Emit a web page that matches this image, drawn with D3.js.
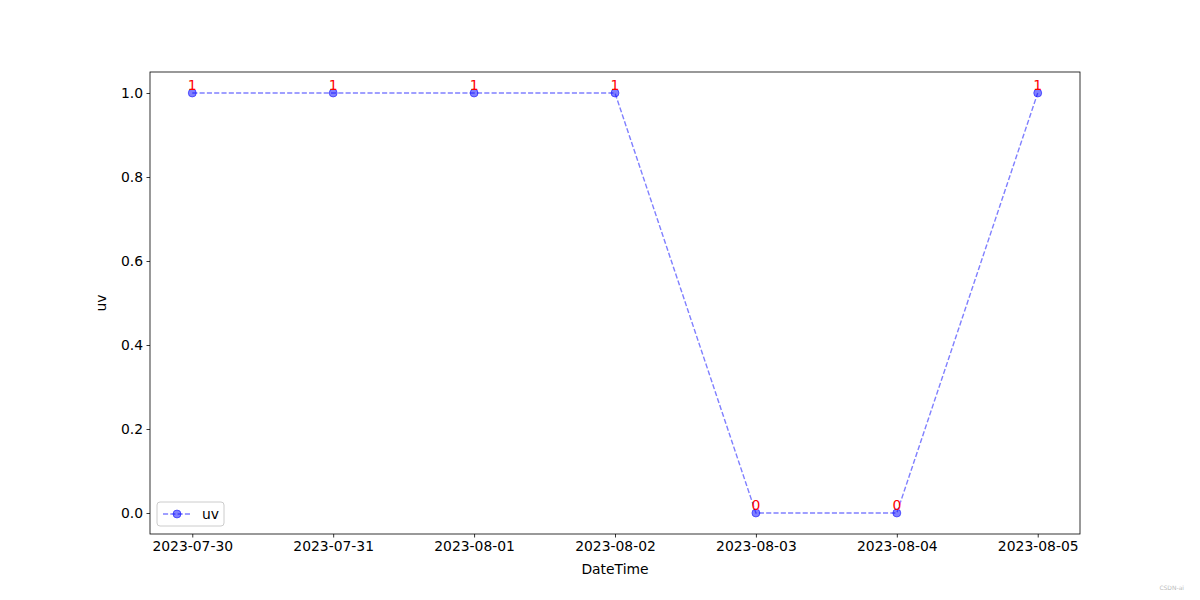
<!DOCTYPE html>
<html>
<head>
<meta charset="utf-8">
<script src="https://cdn.jsdelivr.net/npm/d3@7"></script>
<style>
  body { margin: 0; background: #fff; }
  text { font-family: "DejaVu Sans", sans-serif; }
</style>
</head>
<body>
<div id="chart"></div>
<script>
// dati
var dates = ["2023-07-30", "2023-07-31", "2023-08-01", "2023-08-02", "2023-08-03", "2023-08-04", "2023-08-05"];
var uv = [1, 1, 1, 1, 0, 0, 1];
var yTicks = [0.0, 0.2, 0.4, 0.6, 0.8, 1.0];

var W = 1200, H = 600;
var margin = {top: 72, right: 120, bottom: 66, left: 150};
var width = W - margin.left - margin.right;
var height = H - margin.top - margin.bottom;

var svg = d3.select("#chart")
  .append("svg")
  .attr("width", W)
  .attr("height", H)
  .style("background", "#fff");

var g = svg.append("g")
  .attr("transform", "translate(" + margin.left + "," + margin.top + ")");

var n = dates.length;
var x = d3.scaleLinear()
  .domain([-0.05 * (n - 1), (n - 1) * 1.05])
  .range([0, width]);
var y = d3.scaleLinear()
  .domain([-0.05, 1.05])
  .range([height, 0]);

// asse X
var xAxis = g.append("g")
  .attr("transform", "translate(0," + height + ")")
  .call(d3.axisBottom(x)
    .tickValues(d3.range(n))
    .tickFormat(function(i) { return dates[i]; })
    .tickSize(3.5)
    .tickPadding(3.5));

// asse Y
var yAxis = g.append("g")
  .call(d3.axisLeft(y)
    .tickValues(yTicks)
    .tickFormat(d3.format(".1f"))
    .tickSize(3.5)
    .tickPadding(3.5));

[xAxis, yAxis].forEach(function(a) {
  a.select(".domain").remove();
  a.selectAll("text").style("font-size", "13.9px").attr("fill", "#000");
  a.selectAll("line").attr("stroke", "#000").attr("stroke-width", 0.8);
});

// cornice
g.append("rect")
  .attr("width", width)
  .attr("height", height)
  .attr("fill", "none")
  .attr("stroke", "#000")
  .attr("stroke-width", 0.8);

// linea tratteggiata
var line = d3.line()
  .x(function(d, i) { return x(i); })
  .y(function(d) { return y(d); });

g.append("path")
  .datum(uv)
  .attr("d", line)
  .attr("fill", "none")
  .attr("stroke", "blue")
  .attr("stroke-opacity", 0.5)
  .attr("stroke-width", 1.4)
  .attr("stroke-dasharray", "5.1,2.2");

// punti
g.selectAll(".dot")
  .data(uv)
  .enter()
  .append("circle")
  .attr("class", "dot")
  .attr("cx", function(d, i) { return x(i); })
  .attr("cy", function(d) { return y(d); })
  .attr("r", 4)
  .attr("fill", "blue")
  .attr("fill-opacity", 0.5)
  .attr("stroke", "blue")
  .attr("stroke-opacity", 0.5)
  .attr("stroke-width", 1);

// etichette valori
g.selectAll(".lbl")
  .data(uv)
  .enter()
  .append("text")
  .attr("class", "lbl")
  .attr("x", function(d, i) { return x(i); })
  .attr("y", function(d) { return y(d); })
  .attr("text-anchor", "middle")
  .attr("dy", "-3")
  .style("font-size", "13.9px")
  .attr("fill", "red")
  .text(function(d) { return d; });

// titoli assi
g.append("text")
  .attr("x", width / 2)
  .attr("y", height + 40)
  .attr("text-anchor", "middle")
  .style("font-size", "13.9px")
  .text("DateTime");

g.append("text")
  .attr("transform", "translate(-44," + (height / 2) + ") rotate(-90)")
  .attr("text-anchor", "middle")
  .style("font-size", "13.9px")
  .text("uv");

// legenda
var leg = g.append("g").attr("transform", "translate(7," + (height - 32) + ")");
leg.append("rect")
  .attr("width", 67)
  .attr("height", 24)
  .attr("rx", 3)
  .attr("fill", "#fff")
  .attr("fill-opacity", 0.8)
  .attr("stroke", "#ccc")
  .attr("stroke-width", 1);
leg.append("line")
  .attr("x1", 6).attr("x2", 34)
  .attr("y1", 12).attr("y2", 12)
  .attr("stroke", "blue")
  .attr("stroke-opacity", 0.5)
  .attr("stroke-width", 1.4)
  .attr("stroke-dasharray", "5.1,2.2");
leg.append("circle")
  .attr("cx", 20).attr("cy", 12).attr("r", 4)
  .attr("fill", "blue").attr("fill-opacity", 0.5)
  .attr("stroke", "blue").attr("stroke-opacity", 0.5);
leg.append("text")
  .attr("x", 45).attr("y", 17)
  .style("font-size", "13.9px")
  .text("uv");

// filigrana
svg.append("text")
  .attr("x", 1184)
  .attr("y", 590)
  .attr("text-anchor", "end")
  .style("font-size", "6px")
  .attr("fill", "#bbb")
  .text("CSDN-ai");
</script>
</body>
</html>
